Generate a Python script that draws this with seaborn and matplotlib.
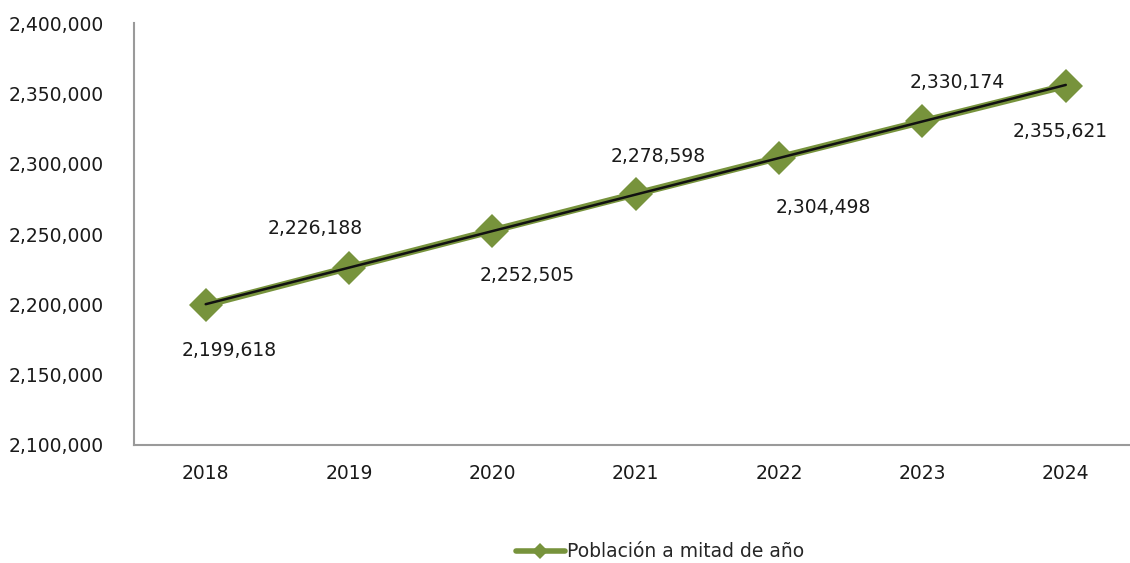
import numpy as np
import pandas as pd
import matplotlib
matplotlib.use("Agg")
import matplotlib.pyplot as plt
import seaborn as sns
from matplotlib.ticker import FuncFormatter
from matplotlib.lines import Line2D

anios = ["2018", "2019", "2020", "2021", "2022", "2023", "2024"]
poblacion = [2199618, 2226188, 2252505, 2278598, 2304498, 2330174, 2355621]
# desplazamiento de cada etiqueta (px): x, y
etiqueta_dx = [23, -34, 35, 22, 44, 35, -6]
etiqueta_dy = [-46, 39, -45, 37, -50, 39, -46]

verde = "#77933C"
texto = "#1a1a1a"

sns.set_style("white")
plt.rcParams['font.family'] = ['DejaVu Sans']

df = pd.DataFrame({"anio": anios, "poblacion": poblacion})
df["pos"] = np.arange(len(anios))

fig = plt.figure(figsize=(11.30, 5.63), dpi=100)
ax = fig.add_axes([0.1186, 0.2096, 0.888, 0.749])

sns.lineplot(data=df, x="pos", y="poblacion", color=verde, linewidth=5,
             marker="D", markersize=17, markeredgewidth=0, ax=ax)

# linea de tendencia lineal
coef = np.polyfit(df["pos"], df["poblacion"], 1)
ax.plot(df["pos"], np.polyval(coef, df["pos"]), color="#111111", linewidth=1.8)

for i, v in enumerate(poblacion):
    ax.annotate(f"{v:,}", (i, v), xytext=(etiqueta_dx[i] * 0.72, etiqueta_dy[i] * 0.72),
                textcoords="offset points", ha="center", va="center",
                fontsize=13.5, color=texto)

ax.set_xlim(-0.5, 6.5)
ax.set_ylim(2100000, 2400000)
ax.set_yticks(range(2100000, 2400001, 50000))
ax.yaxis.set_major_formatter(FuncFormatter(lambda v, p: f"{int(v):,}"))
ax.set_xticks(df["pos"])
ax.set_xticklabels(anios)
ax.tick_params(axis="both", labelsize=13.5, colors=texto, length=0)
ax.tick_params(axis="y", pad=22)
ax.tick_params(axis="x", pad=14)
ax.set_xlabel("")
ax.set_ylabel("")
for s in ["top", "right"]:
    ax.spines[s].set_visible(False)
for s in ["left", "bottom"]:
    ax.spines[s].set_color("#9a9a9a")
    ax.spines[s].set_linewidth(1.5)

handle = Line2D([], [], color=verde, linewidth=4, marker="D", markersize=8,
                markeredgewidth=0)
fig.legend([handle], ["Población a mitad de año"], loc="center",
           bbox_to_anchor=(0.584, 0.02), frameon=False, fontsize=13.5,
           handlelength=2.6, handletextpad=0.1)

fig.savefig("out.png", dpi=100)
